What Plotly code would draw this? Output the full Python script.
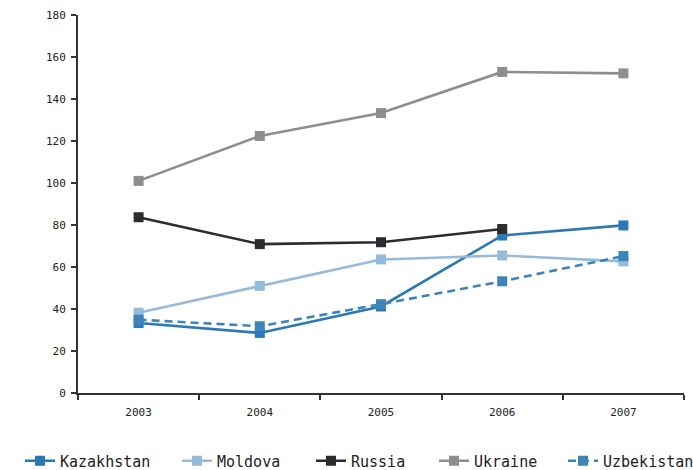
import plotly.graph_objects as go

years = ["2003", "2004", "2005", "2006", "2007"]

kazakhstan = [33.3, 28.6, 41.2, 75.0, 79.8]
moldova = [38.2, 51.0, 63.6, 65.5, 62.7]
russia = [83.7, 70.9, 71.8, 78.1, None]
ukraine = [101.0, 122.4, 133.3, 152.9, 152.2]
uzbekistan = [34.9, 31.8, 42.3, 53.2, 65.2]

series = [
    ("Kazakhstan", kazakhstan, "#2b78b3", "solid"),
    ("Moldova", moldova, "#95bbda", "solid"),
    ("Russia", russia, "#2b2c2e", "solid"),
    ("Ukraine", ukraine, "#8e8e91", "solid"),
    ("Uzbekistan", uzbekistan, "#3f83bb", "8px,5px"),
]

# left edge (px) of each legend entry along the bottom row
legend_left = [20, 177, 311, 434, 563]

fig = go.Figure()
layout_legends = {}
for i, (name, vals, color, dash) in enumerate(series):
    key = "legend" if i == 0 else f"legend{i + 1}"
    fig.add_trace(go.Scatter(
        x=years, y=vals, name=name, mode="lines+markers",
        line=dict(color=color, width=2.6, dash=dash),
        marker=dict(symbol="square", size=10, color=color),
        legend=key,
    ))
    layout_legends[key] = dict(
        orientation="h",
        xref="container", yref="container",
        x=legend_left[i] / 693, xanchor="left",
        y=(470 - 461) / 470, yanchor="middle",
        font=dict(family="DejaVu Sans Mono", size=15, color="#222"),
        bgcolor="rgba(0,0,0,0)",
    )

axis_font = dict(family="DejaVu Sans Mono", size=11, color="#222")

fig.update_layout(
    width=693, height=470,
    margin=dict(l=78, r=9, t=15, b=77),
    plot_bgcolor="white", paper_bgcolor="white",
    showlegend=True,
    xaxis=dict(
        type="category", tickson="boundaries", ticks="outside", ticklen=5,
        tickcolor="#333", tickwidth=1.5, showline=True, linecolor="#333",
        linewidth=1.5, showgrid=False, tickfont=axis_font, range=[-0.5, 4.5],
        ticklabelstandoff=8,
    ),
    yaxis=dict(
        range=[0, 180], dtick=20, ticks="outside", ticklen=5, tickcolor="#333",
        tickwidth=1.5, showline=True, linecolor="#333", linewidth=2,
        showgrid=False, zeroline=False, tickfont=axis_font, ticklabelstandoff=3,
    ),
    **layout_legends,
)

fig.write_html("out.html")
